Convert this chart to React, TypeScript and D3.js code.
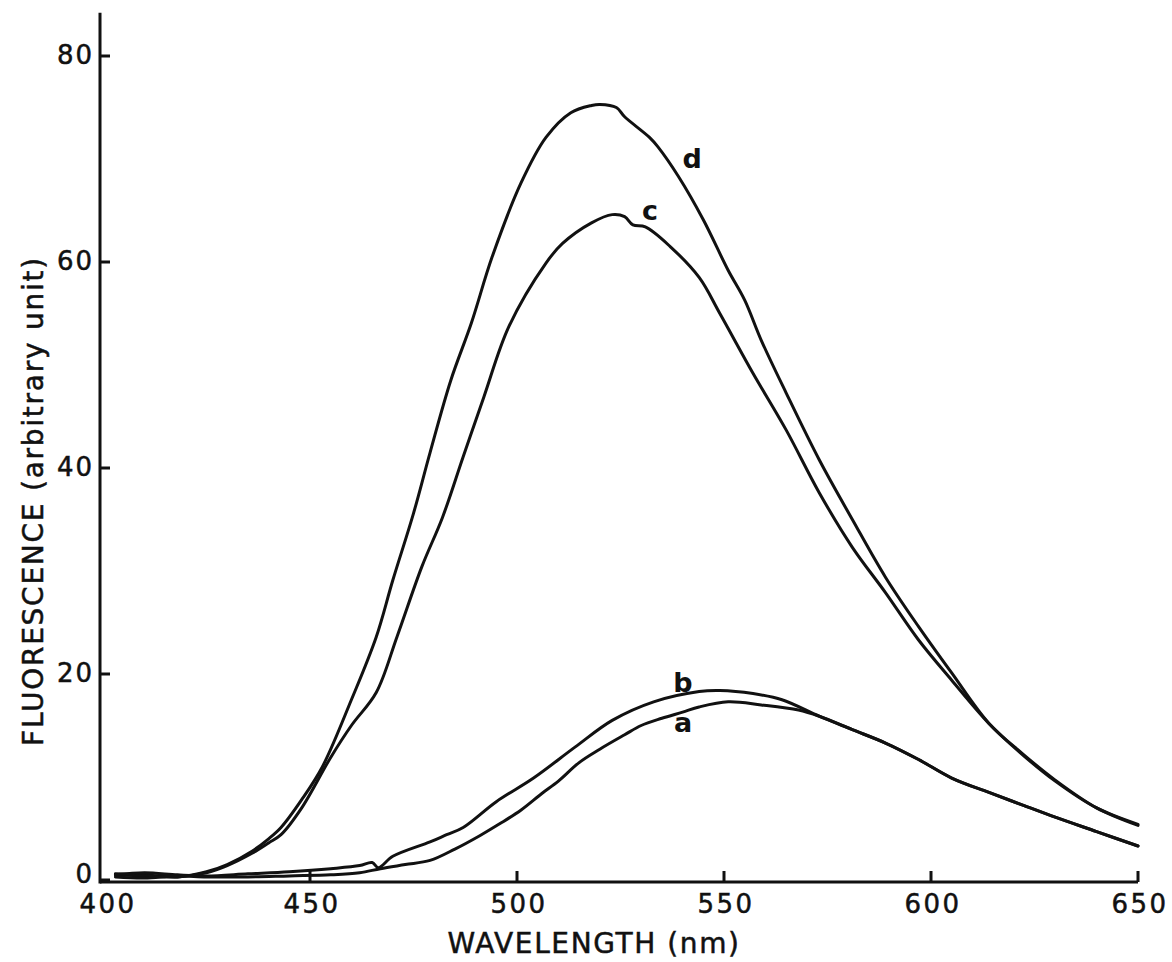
import React from "react";
import * as d3 from "d3";

// ---- data ----
const xTicks = [400, 450, 500, 550, 600, 650];
const yTicks = [0, 20, 40, 60, 80];

const dWave = [403, 410, 418, 425, 430, 436, 440, 443, 448, 453, 460, 466, 470, 475, 479, 484, 489, 494, 501, 507, 513, 518, 520, 524, 526, 532, 534, 539, 545, 551, 555, 559, 565, 573, 581, 589, 597, 605, 614, 622, 630, 640, 650];
const dVals = [0.6, 0.5, 0.3, 0.8, 1.5, 2.8, 4.0, 5.1, 7.8, 11.0, 17.5, 23.6, 29.1, 35.6, 41.5, 48.5, 54.1, 60.5, 67.7, 72.1, 74.5, 75.2, 75.3, 75.0, 74.1, 72.1, 71.2, 68.3, 64.1, 59.2, 56.3, 52.4, 47.3, 40.8, 35.0, 29.4, 24.6, 20.1, 15.2, 12.3, 9.7, 7.0, 5.3];

const cWave = [403, 410, 418, 425, 430, 436, 440, 443, 448, 455, 460, 466, 471, 477, 482, 487, 492, 498, 507, 511, 518, 523, 526, 528, 531, 537, 544, 549, 557, 565, 573, 581, 589, 597, 605, 614, 622, 630, 640, 650];
const cVals = [0.5, 0.4, 0.3, 0.7, 1.4, 2.6, 3.6, 4.4, 7.0, 11.9, 15.0, 18.2, 23.6, 30.4, 35.2, 41.1, 46.9, 53.7, 59.9, 61.8, 63.8, 64.6, 64.4, 63.6, 63.4, 61.5, 58.5, 55.0, 49.2, 43.7, 37.6, 32.3, 27.9, 23.3, 19.4, 15.2, 12.2, 9.6, 7.0, 5.4];

const bWave = [403, 410, 418, 425, 435, 445, 455, 462, 465, 466.5, 470, 479, 483, 487, 495, 504, 514, 523, 533, 544, 549, 557, 564, 573, 581, 589, 597, 605, 614, 622, 630, 640, 650];
const bVals = [0.5, 0.7, 0.5, 0.4, 0.6, 0.8, 1.1, 1.4, 1.7, 1.2, 2.3, 3.7, 4.4, 5.1, 7.6, 9.9, 12.9, 15.5, 17.3, 18.3, 18.4, 18.1, 17.5, 15.9, 14.6, 13.3, 11.7, 9.9, 8.5, 7.3, 6.1, 4.7, 3.3];

const aWave = [403, 410, 418, 425, 435, 445, 455, 462, 467, 473, 479, 485, 491, 496, 501, 506, 510, 515, 520, 526, 530, 535, 540, 544, 551, 559, 568, 573, 581, 589, 597, 605, 614, 622, 630, 640, 650];
const aVals = [0.3, 0.2, 0.4, 0.3, 0.3, 0.4, 0.5, 0.7, 1.1, 1.5, 1.9, 3.0, 4.3, 5.5, 6.8, 8.4, 9.6, 11.4, 12.7, 14.1, 15.0, 15.7, 16.3, 16.8, 17.3, 17.0, 16.5, 15.9, 14.6, 13.3, 11.7, 9.9, 8.5, 7.3, 6.1, 4.7, 3.3];

const labelNames = ["d", "c", "b", "a"];
const labelWave = [542.3, 532.1, 540.1, 540.1];
const labelVals = [69.1, 64.1, 18.25, 14.4];

const xTitle = "WAVELENGTH (nm)";
const yTitle = "FLUORESCENCE (arbitrary unit)";

const W = 1172;
const H = 962;
const INK = "#111";
const FONT = "'DejaVu Sans', Verdana, sans-serif";

export default function App() {
  const x = d3.scaleLinear().domain([400, 650]).range([103, 1138]);
  const y = d3.scaleLinear().domain([0, 80]).range([880, 56]);

  const line = d3
    .line<[number, number]>()
    .x((p) => x(p[0]))
    .y((p) => y(p[1]))
    .curve(d3.curveCatmullRom.alpha(0.5));

  const series = [
    { w: dWave, v: dVals },
    { w: cWave, v: cVals },
    { w: bWave, v: bVals },
    { w: aWave, v: aVals },
  ];

  const axisX = x(400) - 3;
  const axisY = y(0) + 2;
  const yTop = y(84.2);

  const textStyle = { stroke: INK, strokeWidth: 0.5 };

  return (
    <svg
      width={W}
      height={H}
      viewBox={`0 0 ${W} ${H}`}
      style={{ position: "absolute", left: 0, top: 0, background: "#fff" }}
    >
      <rect x={0} y={0} width={W} height={H} fill="#fff" />
      {/* axes */}
      <line x1={axisX} x2={axisX} y1={yTop} y2={axisY + 1.5} stroke={INK} strokeWidth={3} />
      <line x1={axisX} x2={x(650)} y1={axisY} y2={axisY} stroke={INK} strokeWidth={3} />
      {/* x ticks */}
      {xTicks.map((t) => (
        <g key={"xt" + t}>
          {t !== 400 && (
            <line x1={x(t)} x2={x(t)} y1={axisY} y2={axisY - 11} stroke={INK} strokeWidth={3} />
          )}
          <text
            x={x(t) + (t === 400 ? 5 : 2)}
            y={913}
            textAnchor="middle"
            fontFamily={FONT}
            fontSize={26}
            letterSpacing={2.5}
            fill={INK}
            style={textStyle}
          >
            {t}
          </text>
        </g>
      ))}
      {/* y ticks */}
      {yTicks.map((t) => (
        <g key={"yt" + t}>
          <line x1={axisX} x2={axisX + 10} y1={y(t)} y2={y(t)} stroke={INK} strokeWidth={3} />
          <text
            x={axisX - 6}
            y={y(t) + (t === 0 ? 3 : 8)}
            textAnchor="end"
            fontFamily={FONT}
            fontSize={26}
            letterSpacing={2}
            fill={INK}
            style={textStyle}
          >
            {t}
          </text>
        </g>
      ))}
      {/* curves */}
      {series.map((s, i) => (
        <path
          key={"s" + i}
          d={line(s.w.map((w, j) => [w, s.v[j]] as [number, number])) || ""}
          fill="none"
          stroke={INK}
          strokeWidth={3}
          strokeLinejoin="round"
          strokeLinecap="round"
        />
      ))}
      {/* curve labels */}
      {labelNames.map((n, i) => (
        <text
          key={"l" + n}
          x={x(labelWave[i])}
          y={y(labelVals[i])}
          textAnchor="middle"
          fontFamily={FONT}
          fontSize={27}
          fontWeight="bold"
          fill={INK}
        >
          {n}
        </text>
      ))}
      {/* axis titles */}
      <text
        x={594}
        y={953}
        textAnchor="middle"
        fontFamily={FONT}
        fontSize={28}
        letterSpacing={1.6}
        fill={INK}
        style={textStyle}
      >
        {xTitle}
      </text>
      <text
        transform={`translate(43, 501) rotate(-90)`}
        textAnchor="middle"
        fontFamily={FONT}
        fontSize={28}
        letterSpacing={1.75}
        fill={INK}
        style={textStyle}
      >
        {yTitle}
      </text>
    </svg>
  );
}
